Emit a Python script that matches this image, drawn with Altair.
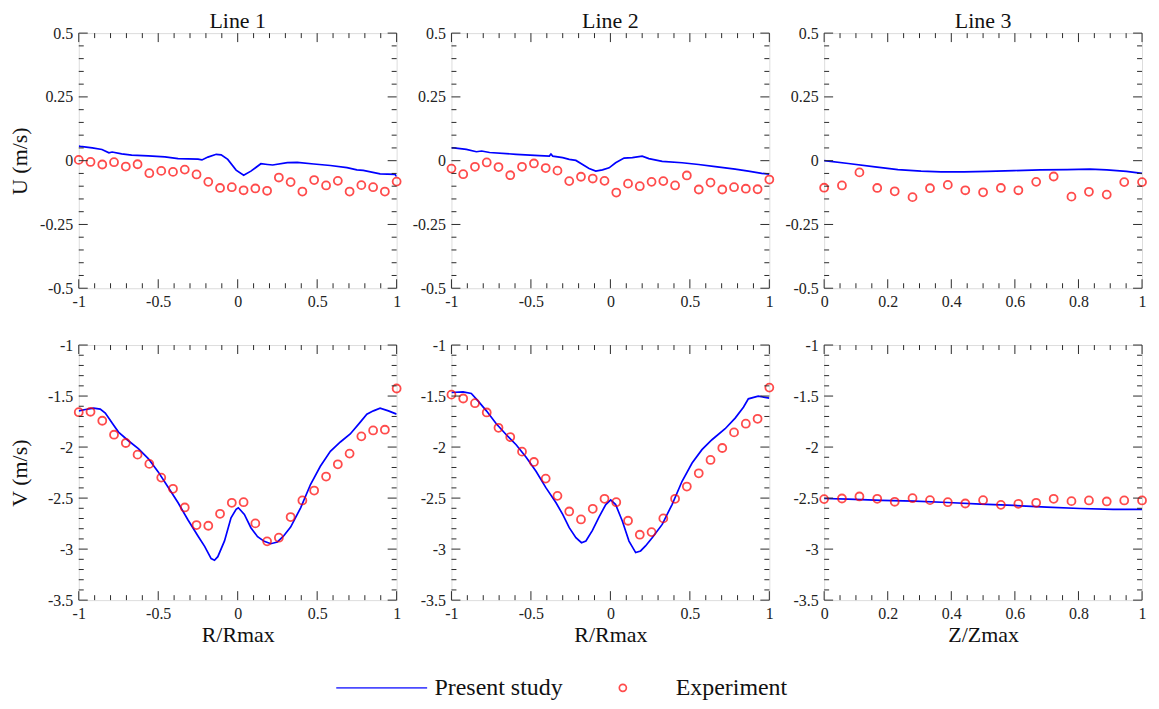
import altair as alt
import pandas as pd

FONT = "Liberation Serif"

# ---------------- data ----------------
R_EXP = [-1.0, -0.926, -0.852, -0.778, -0.704, -0.630, -0.556, -0.481, -0.407, -0.333,
         -0.259, -0.185, -0.111, -0.037, 0.037, 0.111, 0.185, 0.259, 0.333, 0.407,
         0.481, 0.556, 0.630, 0.704, 0.778, 0.852, 0.926, 1.0]
Z_EXP = [0.0, 0.056, 0.111, 0.167, 0.222, 0.278, 0.333, 0.389, 0.444, 0.5,
         0.556, 0.611, 0.667, 0.722, 0.778, 0.833, 0.889, 0.944, 1.0]

U1_EXP = [0.003, -0.005, -0.015, -0.006, -0.023, -0.014, -0.049, -0.040, -0.044, -0.035,
          -0.054, -0.083, -0.107, -0.104, -0.116, -0.109, -0.118, -0.066, -0.084, -0.121,
          -0.076, -0.097, -0.079, -0.121, -0.096, -0.104, -0.121, -0.082]
U2_EXP = [-0.031, -0.053, -0.024, -0.007, -0.025, -0.057, -0.024, -0.011, -0.029, -0.039,
          -0.080, -0.063, -0.070, -0.079, -0.125, -0.090, -0.100, -0.083, -0.080, -0.097,
          -0.058, -0.113, -0.086, -0.113, -0.104, -0.110, -0.112, -0.074]
U3_EXP = [-0.106, -0.097, -0.046, -0.107, -0.120, -0.143, -0.108, -0.095, -0.116, -0.124,
          -0.107, -0.116, -0.083, -0.062, -0.141, -0.122, -0.133, -0.084, -0.084]
V1_EXP = [-1.658, -1.654, -1.742, -1.879, -1.960, -2.074, -2.165, -2.299, -2.409, -2.592,
          -2.764, -2.771, -2.654, -2.546, -2.540, -2.748, -2.924, -2.888, -2.686, -2.523,
          -2.426, -2.289, -2.169, -2.064, -1.895, -1.837, -1.830, -1.426]
V2_EXP = [-1.486, -1.524, -1.570, -1.661, -1.811, -1.902, -2.045, -2.146, -2.309, -2.478,
          -2.631, -2.709, -2.605, -2.507, -2.540, -2.722, -2.859, -2.833, -2.699, -2.507,
          -2.387, -2.257, -2.126, -2.009, -1.856, -1.771, -1.723, -1.417]
V3_EXP = [-2.510, -2.504, -2.484, -2.507, -2.536, -2.501, -2.520, -2.540, -2.553, -2.520,
          -2.566, -2.556, -2.546, -2.507, -2.530, -2.523, -2.533, -2.523, -2.523]

U1_SIM_X = [-1.0, -0.99, -0.915, -0.854, -0.81, -0.79, -0.73, -0.667, -0.5625, -0.458,
            -0.375, -0.25, -0.225, -0.1875, -0.135, -0.104, -0.0625, -0.01, 0.0375, 0.083,
            0.146, 0.1875, 0.22, 0.3125, 0.375, 0.479, 0.583, 0.6875, 0.75, 0.79,
            0.896, 0.99, 1.0]
U1_SIM_Y = [0.057, 0.056, 0.05, 0.044, 0.031, 0.034, 0.027, 0.022, 0.019, 0.015,
            0.008, 0.006, 0.003, 0.014, 0.025, 0.023, 0.005, -0.037, -0.057, -0.041,
            -0.012, -0.015, -0.017, -0.008, -0.007, -0.013, -0.019, -0.027, -0.036, -0.038,
            -0.052, -0.054, -0.062]
U2_SIM_X = [-1.0, -0.985, -0.906, -0.843, -0.81, -0.76, -0.593, -0.447, -0.384, -0.374,
            -0.363, -0.30, -0.259, -0.217, -0.175, -0.134, -0.092, -0.05, -0.008, 0.033,
            0.086, 0.138, 0.2, 0.242, 0.326, 0.451, 0.555, 0.66, 0.785, 0.868,
            0.952, 1.0]
U2_SIM_Y = [0.05, 0.05, 0.044, 0.035, 0.038, 0.032, 0.025, 0.02, 0.018, 0.026,
            0.018, 0.012, 0.005, 0.001, -0.015, -0.031, -0.041, -0.036, -0.028, -0.008,
            0.01, 0.012, 0.018, 0.008, -0.003, -0.008, -0.015, -0.023, -0.033, -0.041,
            -0.05, -0.053]
U3_SIM_X = [0.0, 0.076, 0.16, 0.232, 0.305, 0.368, 0.44, 0.514, 0.597, 0.68,
            0.764, 0.836, 0.889, 0.951, 1.0]
U3_SIM_Y = [0.0, -0.011, -0.024, -0.035, -0.041, -0.044, -0.044, -0.042, -0.039, -0.036,
            -0.035, -0.033, -0.036, -0.042, -0.05]
V1_SIM_X = [-1.0, -0.958, -0.906, -0.865, -0.833, -0.79, -0.75, -0.6875, -0.625, -0.5625,
            -0.5, -0.4375, -0.375, -0.3125, -0.25, -0.208, -0.167, -0.146, -0.125, -0.083,
            -0.042, -0.01, 0.004, 0.042, 0.083, 0.125, 0.167, 0.208, 0.25, 0.29,
            0.333, 0.396, 0.458, 0.52, 0.583, 0.646, 0.708, 0.77, 0.8125, 0.854,
            0.896, 0.948, 1.0]
V1_SIM_Y = [-1.645, -1.632, -1.618, -1.628, -1.667, -1.765, -1.853, -1.938, -2.016, -2.113,
            -2.243, -2.393, -2.546, -2.715, -2.872, -2.973, -3.093, -3.109, -3.074, -2.92,
            -2.693, -2.611, -2.595, -2.66, -2.79, -2.878, -2.924, -2.947, -2.93, -2.869,
            -2.784, -2.595, -2.367, -2.188, -2.042, -1.95, -1.872, -1.758, -1.677, -1.645,
            -1.618, -1.645, -1.677]
V2_SIM_X = [-1.0, -0.927, -0.875, -0.833, -0.78, -0.718, -0.655, -0.593, -0.53, -0.468,
            -0.405, -0.342, -0.3, -0.259, -0.217, -0.182, -0.154, -0.113, -0.071, -0.029,
            0.002, 0.033, 0.075, 0.117, 0.159, 0.19, 0.221, 0.263, 0.326, 0.388,
            0.451, 0.514, 0.576, 0.639, 0.722, 0.785, 0.837, 0.868, 0.93, 1.0]
V2_SIM_Y = [-1.465, -1.459, -1.475, -1.547, -1.645, -1.771, -1.879, -1.977, -2.1, -2.237,
            -2.4, -2.546, -2.66, -2.79, -2.888, -2.937, -2.921, -2.817, -2.683, -2.563,
            -2.517, -2.563, -2.725, -2.921, -3.034, -3.018, -2.969, -2.888, -2.758, -2.563,
            -2.335, -2.156, -2.025, -1.928, -1.82, -1.716, -1.609, -1.527, -1.501, -1.521]
V3_SIM_X = [0.0, 0.076, 0.18, 0.284, 0.389, 0.493, 0.597, 0.70, 0.805, 0.909, 1.0]
V3_SIM_Y = [-2.504, -2.51, -2.523, -2.53, -2.543, -2.559, -2.572, -2.589, -2.602, -2.611, -2.611]

SERIES = ["Present study", "Experiment"]
PANEL_TITLES = ["Line 1", "Line 2", "Line 3"]

R_DOMAIN = [-1, 1]
Z_DOMAIN = [0, 1]
U_DOMAIN = [-0.5, 0.5]
V_DOMAIN = [-3.5, -1]

R_MAJOR = [-1, -0.5, 0, 0.5, 1]
R_MINOR = [-0.9, -0.8, -0.7, -0.6, -0.4, -0.3, -0.2, -0.1, 0.1, 0.2, 0.3, 0.4, 0.6, 0.7, 0.8, 0.9]
Z_MAJOR = [0, 0.2, 0.4, 0.6, 0.8, 1]
Z_MINOR = [0.05, 0.1, 0.15, 0.25, 0.3, 0.35, 0.45, 0.5, 0.55, 0.65, 0.7, 0.75, 0.85, 0.9, 0.95]
U_MAJOR = [-0.5, -0.25, 0, 0.25, 0.5]
U_MINOR = [-0.45, -0.4, -0.35, -0.3, -0.2, -0.15, -0.1, -0.05, 0.05, 0.1, 0.15, 0.2,
           0.3, 0.35, 0.4, 0.45]
V_MAJOR = [-3.5, -3, -2.5, -2, -1.5, -1]
V_MINOR = [-3.4, -3.3, -3.2, -3.1, -2.9, -2.8, -2.7, -2.6, -2.4, -2.3, -2.2, -2.1,
           -1.9, -1.8, -1.7, -1.6, -1.4, -1.3, -1.2, -1.1]

# ---------------- style ----------------
W, H = 319, 256
MAJ, MIN = 9, 5
FRAME = "#2b2b2b"
BLUE = "#0000ff"
RED = "#ff0000"

color_scale = alt.Scale(domain=SERIES, range=[BLUE, RED])
shape_scale = alt.Scale(domain=SERIES, range=["M-12.9,0L12.9,0", "circle"])
legend = alt.Legend(title=None, orient="none", legendX=292, legendY=645,
                    direction="horizontal", symbolSize=50, symbolStrokeWidth=1.7,
                    labelFont=FONT, labelFontSize=24, labelColor="#111",
                    labelOffset=41, columnPadding=48)


def panel(sim_x, sim_y, exp_x, exp_y, xdom, ydom, xmaj, xmin, ymaj, ymin,
          title=None, ytitle=None, xtitle=None):
    xaxis_kw = dict(values=xmaj, ticks=False, domain=False, grid=False,
                    labelPadding=5, labelFlush=False, labelOverlap=False,
                    labelExpr="'' + datum.value", labelFont=FONT, labelFontSize=16,
                    labelColor="#222", titleFont=FONT, titleFontSize=22,
                    titleFontWeight="normal", titleColor="#111", titlePadding=4)
    yaxis_kw = dict(values=ymaj, ticks=False, domain=False, grid=False,
                    labelPadding=6, labelFlush=False, labelOverlap=False,
                    labelExpr="'' + datum.value", labelFont=FONT, labelFontSize=16,
                    labelColor="#222", titleFont=FONT, titleFontSize=22,
                    titleFontWeight="normal", titleColor="#111", titlePadding=11,
                    minExtent=36, maxExtent=36)
    xenc = alt.X("x:Q", scale=alt.Scale(domain=xdom, nice=False, zero=False),
                 axis=alt.Axis(title=xtitle, **xaxis_kw))
    yenc = alt.Y("y:Q", scale=alt.Scale(domain=ydom, nice=False, zero=False),
                 axis=alt.Axis(title=ytitle, **yaxis_kw))

    sim = pd.DataFrame({"x": sim_x, "y": sim_y})
    exp = pd.DataFrame({"x": exp_x, "y": exp_y, "series": SERIES[1]})

    line = alt.Chart(sim).mark_line(color=BLUE, strokeWidth=1.7, clip=True).encode(
        x=xenc, y=yenc)
    pts = alt.Chart(exp).mark_point(filled=False, size=64, strokeWidth=1.8).encode(
        x=xenc, y=yenc,
        color=alt.Color("series:N", scale=color_scale, legend=legend),
        shape=alt.Shape("series:N", scale=shape_scale, legend=legend))

    layers = [line, pts]
    for vals, ln in ((xmaj, MAJ), (xmin, MIN)):
        d = pd.DataFrame({"x": vals})
        layers.append(alt.Chart(d).mark_rule(color=FRAME, strokeWidth=1).encode(
            x=xenc, y=alt.value(0), y2=alt.value(ln)))
        layers.append(alt.Chart(d).mark_rule(color=FRAME, strokeWidth=1).encode(
            x=xenc, y=alt.value(H), y2=alt.value(H - ln)))
    for vals, ln in ((ymaj, MAJ), (ymin, MIN)):
        d = pd.DataFrame({"y": vals})
        layers.append(alt.Chart(d).mark_rule(color=FRAME, strokeWidth=1).encode(
            y=yenc, x=alt.value(0), x2=alt.value(ln)))
        layers.append(alt.Chart(d).mark_rule(color=FRAME, strokeWidth=1).encode(
            y=yenc, x=alt.value(W), x2=alt.value(W - ln)))

    props = dict(width=W, height=H)
    if title:
        props["title"] = alt.Title(title, font=FONT, fontSize=22, fontWeight="normal",
                                   color="#111", offset=-8)
    return alt.layer(*layers).properties(**props)


panels = [
    panel(U1_SIM_X, U1_SIM_Y, R_EXP, U1_EXP, R_DOMAIN, U_DOMAIN, R_MAJOR, R_MINOR,
          U_MAJOR, U_MINOR, title=PANEL_TITLES[0], ytitle="U (m/s)"),
    panel(U2_SIM_X, U2_SIM_Y, R_EXP, U2_EXP, R_DOMAIN, U_DOMAIN, R_MAJOR, R_MINOR,
          U_MAJOR, U_MINOR, title=PANEL_TITLES[1]),
    panel(U3_SIM_X, U3_SIM_Y, Z_EXP, U3_EXP, Z_DOMAIN, U_DOMAIN, Z_MAJOR, Z_MINOR,
          U_MAJOR, U_MINOR, title=PANEL_TITLES[2]),
    panel(V1_SIM_X, V1_SIM_Y, R_EXP, V1_EXP, R_DOMAIN, V_DOMAIN, R_MAJOR, R_MINOR,
          V_MAJOR, V_MINOR, ytitle="V (m/s)", xtitle="R/Rmax"),
    panel(V2_SIM_X, V2_SIM_Y, R_EXP, V2_EXP, R_DOMAIN, V_DOMAIN, R_MAJOR, R_MINOR,
          V_MAJOR, V_MINOR, xtitle="R/Rmax"),
    panel(V3_SIM_X, V3_SIM_Y, Z_EXP, V3_EXP, Z_DOMAIN, V_DOMAIN, Z_MAJOR, Z_MINOR,
          V_MAJOR, V_MINOR, xtitle="Z/Zmax"),
]

chart = alt.concat(*panels, columns=3, spacing={"row": 57, "column": 55},
                   bounds="flush").resolve_scale(
    color="shared", shape="shared").resolve_legend(color="shared", shape="shared").properties(
    padding={"left": 0, "top": 0, "right": 0, "bottom": 0}
).configure_view(stroke=FRAME, strokeWidth=1.2).configure(background="white")

chart.save("out.html", embed_options={"renderer": "svg", "actions": False})
